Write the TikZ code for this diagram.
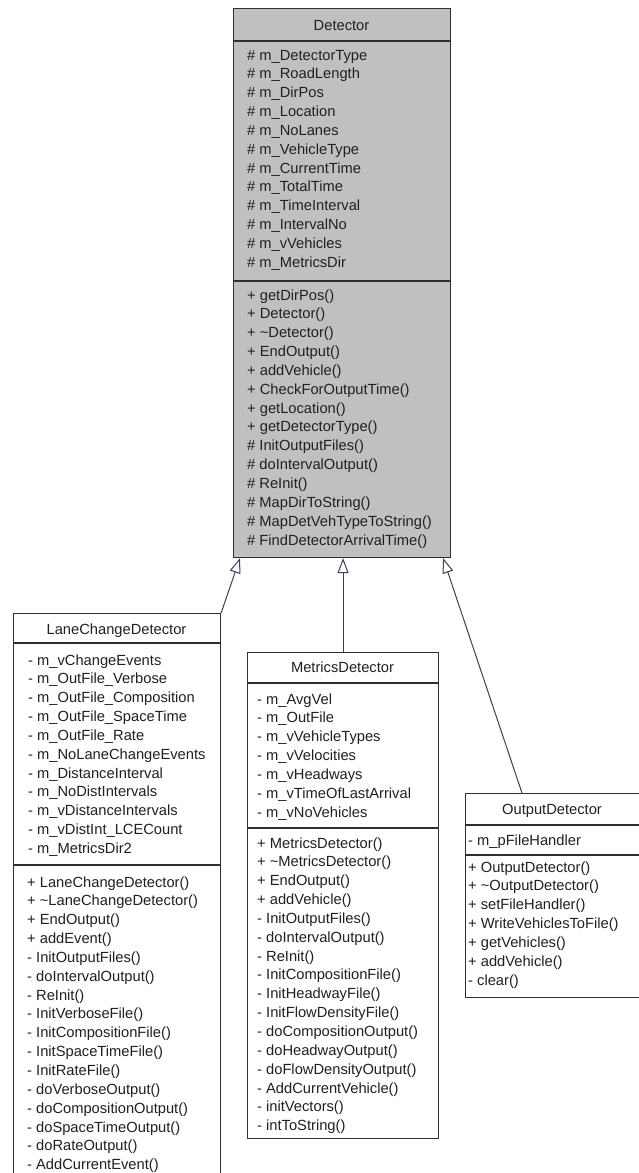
\documentclass[tikz,border=0pt]{standalone}
\usepackage{fontspec}
\setmainfont{Liberation Sans}
\usetikzlibrary{arrows.meta,calc}
\definecolor{detfill}{HTML}{C0C0C0}
\definecolor{edge}{HTML}{303030}
\definecolor{txt}{HTML}{202020}
\definecolor{conn}{HTML}{3E3E58}
\newcommand\rowfont{\fontsize{14.7}{18.8}\selectfont}
\newcommand\umlrows[4]{%
  \foreach \t [count=\i] in {#4} {
    \node[rowtxt] (#1\i) at ({#2},{#3+5+18.85*(\i-1)}) {\t};
  }%
}
\tikzset{
  box/.style={draw=edge, line width=1.1pt, fill=white, anchor=north west, inner sep=0},
  sepline/.style={draw=edge, line width=1.8pt},
  rowtxt/.style={anchor=base west, inner sep=0, font=\rowfont, text=txt},
  titletxt/.style={anchor=base, inner sep=0, font=\rowfont, text=txt},
  inherit/.style={draw=conn, line width=1pt, -{Triangle[open, length=15pt, width=11pt, fill=white]}}
}
\begin{document}
\begin{tikzpicture}[x=1pt,y=-1pt]
\useasboundingbox (0,0) rectangle (639,1173);
\fill[white] (0,0) rectangle (639,1173);
\clip (0,0) rectangle (639,1173);

% ---------- Detector ----------
\node[box, fill=detfill, minimum width=217, minimum height=549] (det) at (233,8) {};
\draw[sepline] (det.west |- 0,41) -- (det.east |- 0,41);
\draw[sepline] (det.west |- 0,281) -- (det.east |- 0,281);
\node[titletxt] (detT) at (341.5,30) {Detector};
\umlrows{da}{247}{55}{\# m\_DetectorType,\# m\_RoadLength,\# m\_DirPos,\# m\_Location,\# m\_NoLanes,\# m\_VehicleType,\# m\_CurrentTime,\# m\_TotalTime,\# m\_TimeInterval,\# m\_IntervalNo,\# m\_vVehicles,\# m\_MetricsDir}
\umlrows{dm}{247}{295}{+ getDirPos(),+ Detector(),+ \textasciitilde Detector(),+ EndOutput(),+ addVehicle(),+ CheckForOutputTime(),+ getLocation(),+ getDetectorType(),\# InitOutputFiles(),\# doIntervalOutput(),\# ReInit(),\# MapDirToString(),\# MapDetVehTypeToString(),\# FindDetectorArrivalTime()}

% ---------- LaneChangeDetector ----------
\node[box, minimum width=207, minimum height=575] (lcd) at (13,613) {};
\draw[sepline] (lcd.west |- 0,643) -- (lcd.east |- 0,643);
\draw[sepline] (lcd.west |- 0,865) -- (lcd.east |- 0,865);
\node[titletxt] (lcdT) at (116.5,634) {LaneChangeDetector};
\umlrows{la}{28}{660}{- m\_vChangeEvents,- m\_OutFile\_Verbose,- m\_OutFile\_Composition,- m\_OutFile\_SpaceTime,- m\_OutFile\_Rate,- m\_NoLaneChangeEvents,- m\_DistanceInterval,- m\_NoDistIntervals,- m\_vDistanceIntervals,- m\_vDistInt\_LCECount,- m\_MetricsDir2}
\umlrows{lm}{27}{882}{+ LaneChangeDetector(),+ \textasciitilde LaneChangeDetector(),+ EndOutput(),+ addEvent(),- InitOutputFiles(),- doIntervalOutput(),- ReInit(),- InitVerboseFile(),- InitCompositionFile(),- InitSpaceTimeFile(),- InitRateFile(),- doVerboseOutput(),- doCompositionOutput(),- doSpaceTimeOutput(),- doRateOutput(),- AddCurrentEvent()}

% ---------- MetricsDetector ----------
\node[box, minimum width=191, minimum height=486] (md) at (247,652) {};
\draw[sepline] (md.west |- 0,683) -- (md.east |- 0,683);
\draw[sepline] (md.west |- 0,828) -- (md.east |- 0,828);
\node[titletxt] (mdT) at (342.5,672) {MetricsDetector};
\umlrows{ma}{257}{699}{- m\_AvgVel,- m\_OutFile,- m\_vVehicleTypes,- m\_vVelocities,- m\_vHeadways,- m\_vTimeOfLastArrival,- m\_vNoVehicles}
\umlrows{mm}{257}{843}{+ MetricsDetector(),+ \textasciitilde MetricsDetector(),+ EndOutput(),+ addVehicle(),- InitOutputFiles(),- doIntervalOutput(),- ReInit(),- InitCompositionFile(),- InitHeadwayFile(),- InitFlowDensityFile(),- doCompositionOutput(),- doHeadwayOutput(),- doFlowDensityOutput(),- AddCurrentVehicle(),- initVectors(),- intToString()}

% ---------- OutputDetector ----------
\node[box, minimum width=174, minimum height=204] (od) at (465,793) {};
\draw[sepline] (od.west |- 0,825) -- (od.east |- 0,825);
\draw[sepline] (od.west |- 0,855) -- (od.east |- 0,855);
\node[titletxt] (odT) at (552,814) {OutputDetector};
\umlrows{oa}{468}{840}{- m\_pFileHandler}
\umlrows{om}{468}{867}{+ OutputDetector(),+ \textasciitilde OutputDetector(),+ setFileHandler(),+ WriteVehiclesToFile(),+ getVehicles(),+ addVehicle(),- clear()}

% ---------- generalisations ----------
\draw[inherit] (lcd.north east) -- ($(det.south west)+(7,0)$);
\draw[inherit] (md.north) -- (md.north |- det.south);
\draw[inherit] ($(od.north west)+(57,0)$) -- ($(det.south east)+(-8,0)$);
\end{tikzpicture}
\end{document}
